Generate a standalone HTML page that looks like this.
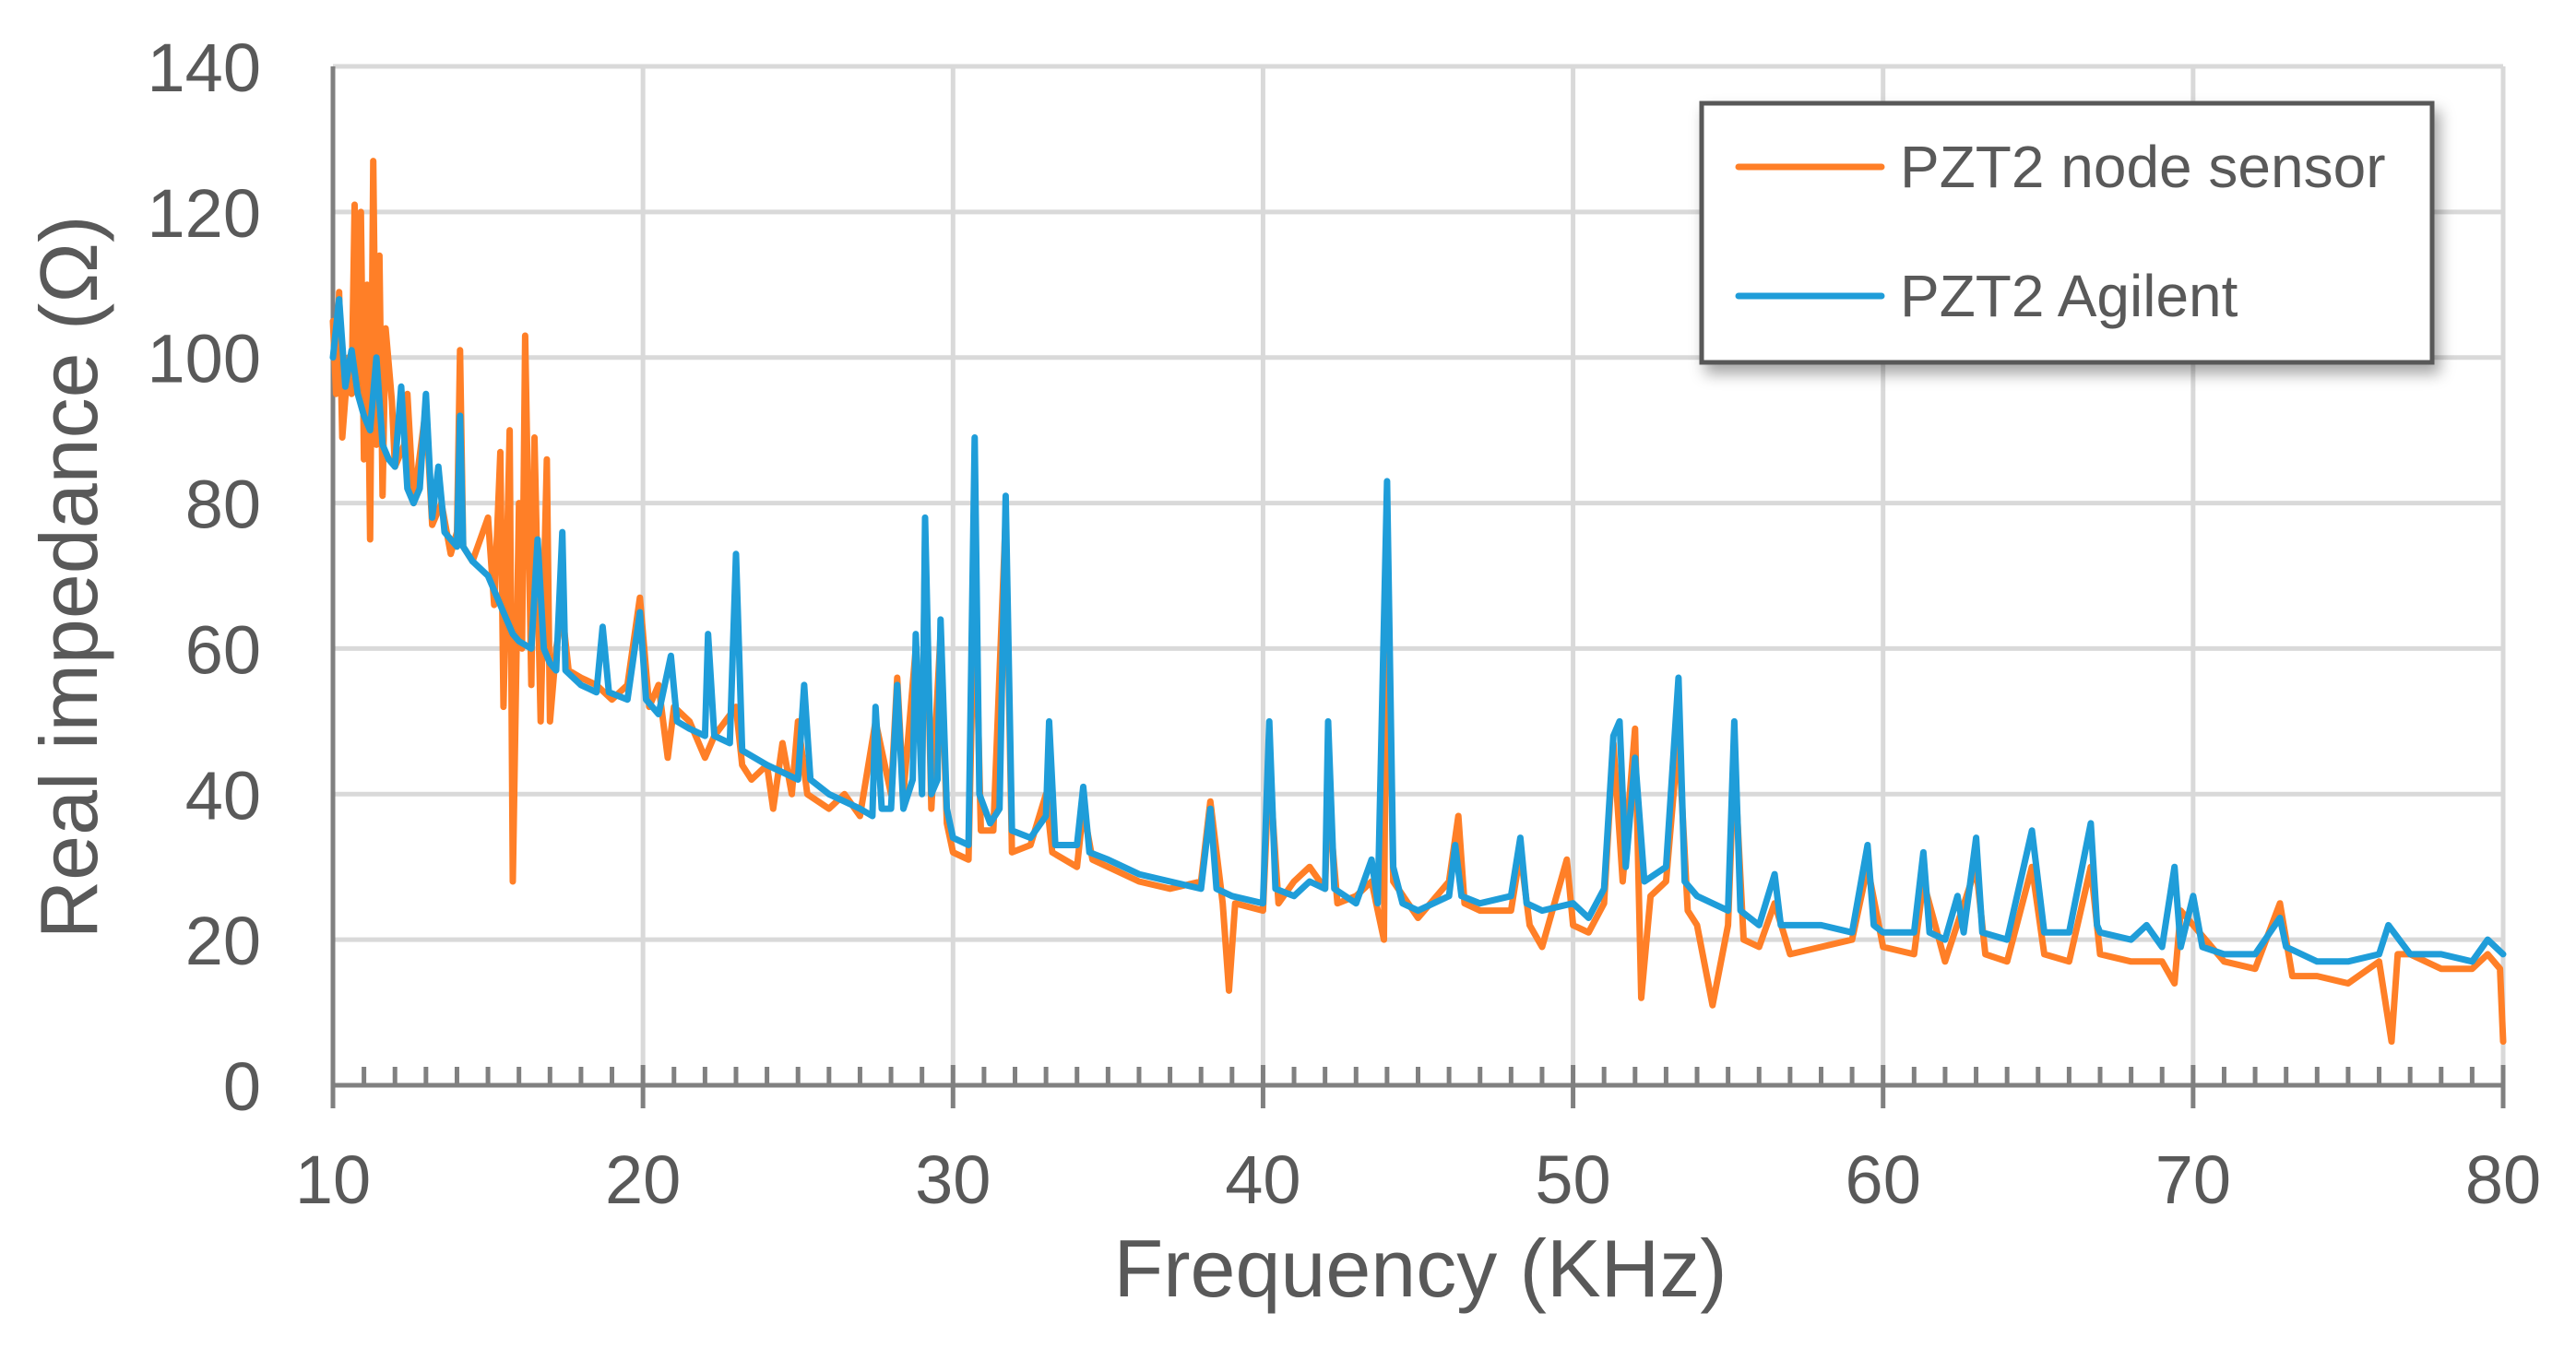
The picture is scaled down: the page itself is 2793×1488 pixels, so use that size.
<!DOCTYPE html>
<html><head><meta charset="utf-8">
<style>
html,body{margin:0;padding:0;background:#fff;}
svg{display:block;font-family:"Liberation Sans",sans-serif;}
</style></head>
<body>
<svg id="chart" width="2793" height="1488" viewBox="0 0 2793 1488" xmlns="http://www.w3.org/2000/svg">
<defs>
<filter id="sh" x="-10%" y="-10%" width="130%" height="140%"><feDropShadow dx="6" dy="10" stdDeviation="8" flood-color="#000" flood-opacity="0.35"/></filter>
</defs>
<g id="grid"></g>
<g id="axes"></g>
<g id="series"></g>
<text x="0" y="0" transform="translate(105,626) rotate(-90)" text-anchor="middle" font-size="88" fill="#595959">Real impedance (Ω)</text>
<text x="1540" y="1406" text-anchor="middle" font-size="88" fill="#595959">Frequency (KHz)</text>
<g>
<rect x="1845" y="112" width="792" height="281" fill="#fff" stroke="#595959" stroke-width="5" filter="url(#sh)"/>
<line x1="1885" y1="181" x2="2040" y2="181" stroke="#ff7f27" stroke-width="7" stroke-linecap="round"/>
<text x="2060" y="203" font-size="64" fill="#595959">PZT2 node sensor</text>
<line x1="1885" y1="321" x2="2040" y2="321" stroke="#1f9dd9" stroke-width="7" stroke-linecap="round"/>
<text x="2060" y="343" font-size="64" fill="#595959">PZT2 Agilent</text>
</g>
</svg>
<script>
const xTicks=[10,20,30,40,50,60,70,80];
const yTicks=[0,20,40,60,80,100,120,140];
const nodeF=[10,10.1,10.2,10.3,10.5,10.6,10.7,10.8,10.9,11,11.1,11.2,11.3,11.4,11.5,11.6,11.7,11.9,12,12.3,12.4,12.6,13,13.2,13.5,13.8,14,14.1,14.2,14.5,15,15.2,15.4,15.5,15.7,15.8,16,16.1,16.2,16.4,16.5,16.7,16.9,17,17.2,17.4,17.6,18,18.5,19,19.5,19.9,20.2,20.5,20.8,21,21.5,22,22.3,23,23.2,23.5,24,24.2,24.5,24.8,25,25.3,26,26.5,27,27.5,28,28.2,28.4,28.8,29,29.1,29.3,29.6,29.8,30,30.5,30.7,30.9,31.3,31.7,31.9,32.5,33,33.2,34,34.2,34.5,35,36,37,38,38.3,38.7,38.9,39.1,40,40.2,40.5,41,41.5,42,42.1,42.4,43,43.5,43.9,44,44.2,45,46,46.3,46.5,47,48,48.3,48.6,49,49.8,50,50.5,51,51.3,51.6,52,52.2,52.5,53,53.4,53.7,54,54.5,55,55.2,55.5,56,56.5,57,58,59,59.5,60,61,61.3,62,63,63.3,64,64.8,65.2,66,66.7,67,68,69,69.4,69.6,70,71,72,72.8,73.2,74,75,76,76.4,76.6,77,78,79,79.5,79.9,80];
const nodeV=[105,95,109,89,100,95,121,96,120,86,110,75,127,88,114,81,104,94,85,88,95,80,93,77,80,73,76,101,74,72,78,66,87,52,90,28,80,60,103,55,89,50,86,50,60,65,57,56,55,53,55,67,52,55,45,52,50,45,48,52,44,42,44,38,47,40,50,40,38,40,37,50,40,56,40,60,42,75,38,62,36,32,31,70,35,35,78,32,33,40,32,30,38,31,30,28,27,28,39,25,13,25,24,44,25,28,30,27,40,25,26,28,20,75,28,23,28,37,25,24,24,32,22,19,31,22,21,25,47,28,49,12,26,28,48,24,22,11,22,45,20,19,25,18,19,20,30,19,18,28,17,30,18,17,30,18,17,30,18,17,17,14,24,22,17,16,25,15,15,14,17,6,18,18,16,16,18,16,6];
const agF=[10,10.2,10.4,10.6,10.8,11,11.2,11.4,11.6,11.8,12,12.2,12.4,12.6,12.8,13,13.2,13.4,13.6,13.8,14,14.1,14.2,14.5,15,15.4,15.6,15.8,16,16.4,16.6,16.8,17,17.2,17.4,17.5,18,18.5,18.7,18.9,19.5,19.9,20.1,20.5,20.9,21.1,21.5,22,22.1,22.3,22.8,23,23.2,24,24.5,25,25.2,25.4,26,26.5,27,27.4,27.5,27.7,28,28.2,28.4,28.7,28.8,29,29.1,29.3,29.5,29.6,29.8,30,30.5,30.7,30.85,31.2,31.5,31.7,31.9,32.5,33,33.1,33.3,34,34.2,34.4,35,36,37,38,38.3,38.5,39,40,40.2,40.4,41,41.5,42,42.1,42.3,43,43.5,43.7,44,44.2,44.5,45,46,46.2,46.4,47,48,48.3,48.5,49,50,50.5,51,51.3,51.5,51.7,52,52.3,53,53.4,53.6,54,55,55.2,55.4,56,56.5,56.7,57,58,59,59.5,59.7,60,61,61.3,61.5,62,62.4,62.6,63,63.2,64,64.8,65,65.2,66,66.7,66.9,67,68,68.5,69,69.4,69.6,70,70.3,71,72,72.8,73,74,75,76,76.3,77,78,79,79.5,80];
const agV=[100,108,96,101,95,92,90,100,88,86,85,96,82,80,82,95,78,85,76,75,74,92,74,72,70,66,64,62,61,60,75,60,58,57,76,57,55,54,63,54,53,65,53,51,59,50,49,48,62,48,47,73,46,44,43,42,55,42,40,39,38,37,52,38,38,55,38,42,62,40,78,40,42,64,38,34,33,89,40,36,38,81,35,34,37,50,33,33,41,32,31,29,28,27,38,27,26,25,50,27,26,28,27,50,27,25,31,25,83,30,25,24,26,33,26,25,26,34,25,24,25,23,27,48,50,30,45,28,30,56,28,26,24,50,24,22,29,22,22,22,21,33,22,21,21,32,21,20,26,21,34,21,20,35,28,21,21,36,22,21,20,22,19,30,19,26,19,18,18,23,19,17,17,18,22,18,18,17,20,18];

const NS='http://www.w3.org/2000/svg';
const X0=361,X1=2714,Y0=1177,Y1=72,XMIN=10,XMAX=80,YMIN=0,YMAX=140;
function xs(v){return X0+(v-XMIN)/(XMAX-XMIN)*(X1-X0);}
function ys(v){return Y0-(v-YMIN)/(YMAX-YMIN)*(Y0-Y1);}
function mk(tag,attrs,parent){const e=document.createElementNS(NS,tag);for(const k in attrs)e.setAttribute(k,attrs[k]);parent.appendChild(e);return e;}
const grid=document.getElementById('grid'),axes=document.getElementById('axes'),series=document.getElementById('series');
yTicks.forEach(t=>{
  if(t>0){const l=mk('line',{x1:X0,x2:X1,y1:ys(t),y2:ys(t),stroke:'#d9d9d9','stroke-width':5},grid);
  
  }
  const tx=mk('text',{x:283,y:ys(t)+27,'text-anchor':'end','font-size':74,fill:'#595959'},axes);
  tx.textContent=t;
  
  
});
xTicks.forEach(t=>{
  if(t>XMIN){const l=mk('line',{x1:xs(t),x2:xs(t),y1:Y1,y2:Y0,stroke:'#d9d9d9','stroke-width':5},grid);
  
  }
  const m=mk('line',{x1:xs(t),x2:xs(t),y1:Y0-22,y2:Y0+25,stroke:'#808080','stroke-width':5},axes);
  
  
  const tx=mk('text',{x:xs(t),y:Y0+128,'text-anchor':'middle','font-size':74,fill:'#595959'},axes);
  tx.textContent=t;
  
  
});
for(let f=XMIN+1;f<XMAX;f++){
  if(f%10===0)continue;
  const m=mk('line',{x1:xs(f),x2:xs(f),y1:Y0-20,y2:Y0,stroke:'#808080','stroke-width':5},axes);
  
  
}
const ya=mk('line',{x1:X0,x2:X0,y1:Y1,y2:Y0+25,stroke:'#808080','stroke-width':5},axes);


const xa=mk('line',{x1:X0,x2:X1,y1:Y0,y2:Y0,stroke:'#808080','stroke-width':5},axes);


function line(F,V,color,name){
  const d=F.map((f,i)=>(i?'L':'M')+xs(f).toFixed(1)+' '+ys(V[i]).toFixed(1)).join(' ');
  const p=mk('path',{d:d,fill:'none',stroke:color,'stroke-width':7,'stroke-linejoin':'round','stroke-linecap':'round'},series);
  
  
}
line(nodeF,nodeV,'#ff7f27','series-node-sensor');
line(agF,agV,'#1f9dd9','series-agilent');
</script>
</body></html>
